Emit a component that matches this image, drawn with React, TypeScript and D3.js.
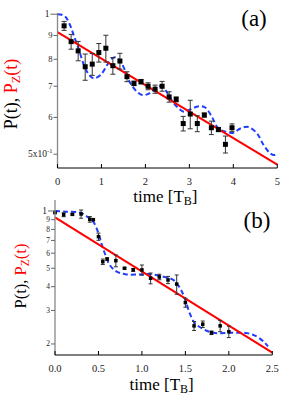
import React from 'react';
import * as d3 from 'd3';

// panel (a): measured points
const aTime = [0.15, 0.31, 0.47, 0.63, 0.79, 0.94, 1.10, 1.26, 1.42, 1.58, 1.74, 1.90, 2.06, 2.22, 2.38, 2.54, 2.70, 2.86, 3.02, 3.18, 3.34, 3.50, 3.66, 3.82, 3.97];
const aP = [0.944, 0.873, 0.834, 0.771, 0.781, 0.827, 0.845, 0.775, 0.793, 0.734, 0.71, 0.716, 0.70, 0.69, 0.70, 0.664, 0.656, 0.582, 0.61, 0.582, 0.607, 0.57, 0.565, 0.525, 0.57];
const aErr = [0.021, 0.032, 0.04, 0.05, 0.042, 0.038, 0.056, 0.032, 0.031, 0.018, 0.008, 0.008, 0.012, 0.014, 0.017, 0.017, 0.008, 0.021, 0.043, 0.023, 0.006, 0.019, 0.006, 0.022, 0.011];
// panel (a): model curve and exponential fit
const aModelT = [0, 0.1, 0.19, 0.30, 0.38, 0.49, 0.60, 0.72, 0.83, 0.98, 1.13, 1.25, 1.33, 1.44, 1.55, 1.66, 1.81, 1.93, 2.08, 2.23, 2.35, 2.45, 2.57, 2.72, 2.87, 3.02, 3.21, 3.36, 3.51, 3.66, 3.82, 4.0, 4.16, 4.34, 4.54, 4.69, 4.84, 4.93, 5.0];
const aModelP = [1.0, 0.997, 0.985, 0.94, 0.895, 0.838, 0.778, 0.74, 0.728, 0.74, 0.778, 0.804, 0.808, 0.79, 0.752, 0.71, 0.681, 0.67, 0.675, 0.694, 0.70, 0.688, 0.659, 0.632, 0.617, 0.624, 0.634, 0.63, 0.602, 0.568, 0.559, 0.556, 0.568, 0.572, 0.554, 0.523, 0.502, 0.498, 0.502];
const aFitT = [0, 5];
const aFitP = [0.915, 0.475];

// panel (b): measured points
const bTime = [0.0, 0.1, 0.2, 0.3, 0.4, 0.44, 0.5, 0.55, 0.6, 0.7, 0.8, 0.9, 1.0, 1.1, 1.2, 1.3, 1.4, 1.5, 1.6, 1.7, 1.8, 1.9, 2.0];
const bP = [0.98, 0.956, 0.96, 0.964, 0.904, 0.9, 0.733, 0.541, 0.559, 0.548, 0.5, 0.49, 0.49, 0.443, 0.45, 0.434, 0.413, 0.33, 0.249, 0.254, 0.229, 0.249, 0.232];
const bErr = [0.005, 0.023, 0.01, 0.048, 0.031, 0.01, 0.032, 0.018, 0.008, 0.039, 0.005, 0.008, 0.03, 0.029, 0.015, 0.019, 0.048, 0.018, 0.0135, 0.01, 0.005, 0.017, 0.016];
// panel (b): model curve and exponential fit
const bModelT = [0, 0.13, 0.29, 0.37, 0.44, 0.5, 0.54, 0.58, 0.63, 0.71, 0.82, 0.98, 1.09, 1.25, 1.36, 1.44, 1.5, 1.55, 1.61, 1.71, 1.82, 2.05, 2.21, 2.32, 2.4, 2.45];
const bModelP = [1.0, 0.992, 0.98, 0.933, 0.878, 0.763, 0.662, 0.587, 0.52, 0.48, 0.464, 0.464, 0.466, 0.451, 0.434, 0.392, 0.34, 0.29, 0.257, 0.239, 0.229, 0.229, 0.228, 0.219, 0.206, 0.194];
const bFitT = [0, 2.5];
const bFitP = [0.925, 0.18];

// axis ticks
const aXTicks = [0, 1, 2, 3, 4, 5];
const aYTicks = [1, 0.9, 0.8, 0.7, 0.6, 0.5];
const bXTicks = [0, 0.5, 1.0, 1.5, 2.0, 2.5];
const bYTicks = [1, 0.9, 0.8, 0.7, 0.6, 0.5, 0.4, 0.3, 0.2];

const FONT = 'Liberation Serif';
const RED = '#ff0000';
const BLUE = '#1f3cff';

type PanelProps = {
    x0: number; x1: number; y0: number; y1: number;
    xDomain: [number, number]; yDomain: [number, number];
    t: number[]; p: number[]; err: number[];
    modelT: number[]; modelP: number[];
    fitT: number[]; fitP: number[];
    xTicks: number[]; xFmt: (d: number) => string;
    yTicks: number[]; yFmt: (d: number) => React.ReactNode; yFont: number;
    marker: number; cap: number;
    tag: string; tagX: number; tagY: number;
    xLabelY: number; yLabelX: number; yLabelY: number; yLabelSize: number;
};

const Panel = (pp: PanelProps) => {
    const x = d3.scaleLinear().domain(pp.xDomain).range([pp.x0, pp.x1]);
    const y = d3.scaleLog().domain(pp.yDomain).range([pp.y0, pp.y1]);
    const model = d3.line<number>()
        .x((_, i) => x(pp.modelT[i]))
        .y((d) => y(d))
        .curve(d3.curveCatmullRom)(pp.modelP);
    const fit = d3.line<number>()
        .x((_, i) => x(pp.fitT[i]))
        .y((d) => y(d))(pp.fitP);

    return (
        <g style={{ fontFamily: FONT }}>
            <path d={model || ''} fill="none" stroke={BLUE} strokeWidth={2} strokeDasharray="5,3" />
            <path d={fit || ''} fill="none" stroke={RED} strokeWidth={2} />
            {pp.t.map((t, i) => (
                <g key={i} stroke="#333" strokeWidth={1}>
                    <line x1={x(t)} x2={x(t)} y1={y(pp.p[i] - pp.err[i])} y2={y(pp.p[i] + pp.err[i])} />
                    <line x1={x(t) - pp.cap / 2} x2={x(t) + pp.cap / 2} y1={y(pp.p[i] - pp.err[i])} y2={y(pp.p[i] - pp.err[i])} />
                    <line x1={x(t) - pp.cap / 2} x2={x(t) + pp.cap / 2} y1={y(pp.p[i] + pp.err[i])} y2={y(pp.p[i] + pp.err[i])} />
                </g>
            ))}
            {pp.t.map((t, i) => (
                <rect key={i} x={x(t) - pp.marker / 2} y={y(pp.p[i]) - pp.marker / 2} width={pp.marker} height={pp.marker} fill="#000" />
            ))}

            {/* y axis */}
            <line x1={pp.x0} x2={pp.x0} y1={pp.y0} y2={pp.y1} stroke="#888" strokeWidth={1.3} />
            {pp.yTicks.map((v, i) => (
                <g key={i}>
                    <line x1={pp.x0 - (i === 0 ? 7 : 4)} x2={pp.x0} y1={y(v)} y2={y(v)} stroke="#666" strokeWidth={1} />
                    <text x={pp.x0 - (i === 0 ? 8 : 5)} y={y(v)} dy="0.33em" textAnchor="end" fontSize={i === 0 ? 9.5 : pp.yFont} fill="#222">
                        {pp.yFmt(v)}
                    </text>
                </g>
            ))}

            {/* x axis */}
            <line x1={pp.x0} x2={pp.x1} y1={pp.y0} y2={pp.y0} stroke="#000" strokeWidth={1} />
            {pp.xTicks.map((v, i) => (
                <g key={i}>
                    <line x1={x(v)} x2={x(v)} y1={pp.y0} y2={pp.y0 - 4} stroke="#000" strokeWidth={1} />
                    <text x={x(v)} y={pp.y0 + 17} textAnchor="middle" fontSize={10.5} fill="#222">
                        {pp.xFmt(v)}
                    </text>
                </g>
            ))}

            <text x={(pp.x0 + pp.x1) / 2 - 2} y={pp.xLabelY} textAnchor="middle" fontSize={17} fill="#000">
                time [T<tspan fontSize={12} dy={3}>B</tspan><tspan dy={-3}>]</tspan>
            </text>
            <text
                transform={`translate(${pp.yLabelX},${pp.yLabelY}) rotate(-90)`}
                textAnchor="middle"
                fontSize={pp.yLabelSize}
            >
                <tspan fill="#000">P(t), </tspan>
                <tspan fill={RED}>P</tspan>
                <tspan fill={RED} fontSize={pp.yLabelSize * 0.7} dy={3}>Z</tspan>
                <tspan fill={RED} dy={-3}>(t)</tspan>
            </text>
            <text x={pp.tagX} y={pp.tagY} textAnchor="middle" fontSize={23} fill="#000">
                {pp.tag}
            </text>
        </g>
    );
};

const aYFmt = (d: number) =>
    d === 1 ? '1' : d === 0.5 ? (
        <tspan fontSize={9.5}>
            5x10<tspan dy={-4} fontSize={6.5}>-1</tspan>
        </tspan>
    ) : String(Math.round(d * 10));
const bYFmt = (d: number) => (d === 1 ? '1' : String(Math.round(d * 10)));

export default function App() {
    return (
        <svg width={306} height={399} style={{ position: 'absolute', left: 0, top: 0, background: '#fff' }}>
            <Panel
                x0={57.5} x1={277.3} y0={168} y1={13}
                xDomain={[0, 5]} yDomain={[0.467, 1.006]}
                t={aTime} p={aP} err={aErr}
                modelT={aModelT} modelP={aModelP}
                fitT={aFitT} fitP={aFitP}
                xTicks={aXTicks} xFmt={(d) => String(d)}
                yTicks={aYTicks} yFmt={aYFmt} yFont={8.5}
                marker={5} cap={5}
                tag="(a)" tagX={254} tagY={26}
                xLabelY={202} yLabelX={17} yLabelY={94} yLabelSize={18}
            />
            <Panel
                x0={55} x1={272.3} y0={355} y1={200}
                xDomain={[0, 2.5]} yDomain={[0.175, 1.142]}
                t={bTime} p={bP} err={bErr}
                modelT={bModelT} modelP={bModelP}
                fitT={bFitT} fitP={bFitP}
                xTicks={bXTicks} xFmt={(d) => d.toFixed(1)}
                yTicks={bYTicks} yFmt={bYFmt} yFont={7.5}
                marker={3.5} cap={4}
                tag="(b)" tagX={257} tagY={228}
                xLabelY={390} yLabelX={26} yLabelY={276} yLabelSize={16.5}
            />
        </svg>
    );
}
